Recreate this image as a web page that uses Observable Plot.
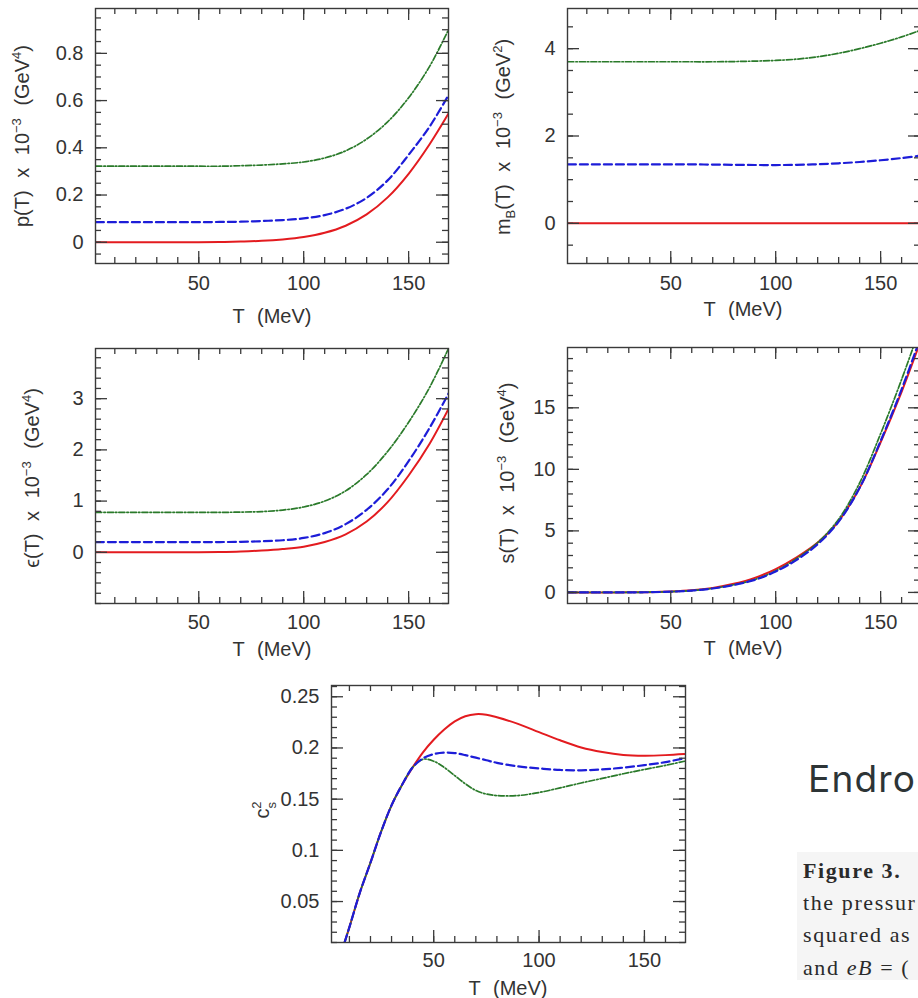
<!DOCTYPE html>
<html><head><meta charset="utf-8">
<script src="https://cdn.jsdelivr.net/npm/d3@7"></script>
<script src="https://cdn.jsdelivr.net/npm/@observablehq/plot@0.6"></script>
<style>
html,body{margin:0;padding:0;background:#fff;}
#page{position:relative;width:918px;height:998px;overflow:hidden;background:#fff;}
.panel{position:absolute;}
.endro{position:absolute;left:808px;top:756px;font:37px/45px Inter,'Noto Sans',sans-serif;color:#2d3436;letter-spacing:1.2px;white-space:nowrap;}
.capbox{position:absolute;left:797px;top:852px;width:130px;height:128px;background:#f5f5f5;}
.cap{position:absolute;left:803px;font:22px/32px 'Liberation Serif','DejaVu Serif',serif;color:#2a2a2a;letter-spacing:1.6px;white-space:nowrap;}
</style></head><body><div id="page">
<div class="endro">Endro</div>
<div class="capbox"></div>
<div class="cap" style="top:855px;font-weight:bold">Figure 3.</div>
<div class="cap" style="top:887px">the pressur</div>
<div class="cap" style="top:919px">squared as</div>
<div class="cap" style="top:952px">and <i>eB</i> = (</div>
</div>
<script>
// ---------- data ----------
const T = [1, 10, 20, 30, 40, 50, 60, 70, 80, 90, 100, 110, 120, 130, 140, 150, 160, 169];

const pRed   = [0, 0, 0, 0, 0, 0, 0.001, 0.003, 0.006, 0.012, 0.022, 0.040, 0.070, 0.118, 0.190, 0.290, 0.415, 0.545];
const pBlue  = [0.085, 0.085, 0.085, 0.085, 0.085, 0.085, 0.086, 0.087, 0.090, 0.094, 0.101, 0.115, 0.142, 0.188, 0.262, 0.370, 0.490, 0.623];
const pGreen = [0.322, 0.322, 0.322, 0.322, 0.322, 0.322, 0.322, 0.324, 0.327, 0.332, 0.340, 0.357, 0.387, 0.437, 0.510, 0.612, 0.745, 0.900];

const mRed   = [0, 0, 0, 0, 0, 0, 0, 0, 0, 0, 0, 0, 0, 0, 0, 0, 0, 0];
const mBlue  = [1.35, 1.35, 1.35, 1.35, 1.35, 1.35, 1.35, 1.345, 1.34, 1.336, 1.335, 1.34, 1.353, 1.375, 1.405, 1.445, 1.495, 1.55];
const mGreen = [3.70, 3.70, 3.70, 3.70, 3.70, 3.70, 3.70, 3.70, 3.705, 3.715, 3.73, 3.76, 3.815, 3.895, 4.0, 4.125, 4.27, 4.42];

const eRed   = [0, 0, 0, 0, 0, 0.001, 0.005, 0.015, 0.035, 0.065, 0.11, 0.20, 0.35, 0.60, 0.98, 1.50, 2.12, 2.80];
const eBlue  = [0.20, 0.20, 0.20, 0.20, 0.20, 0.20, 0.20, 0.205, 0.215, 0.235, 0.28, 0.375, 0.55, 0.83, 1.23, 1.78, 2.43, 3.10];
const eGreen = [0.78, 0.78, 0.78, 0.78, 0.78, 0.78, 0.78, 0.785, 0.795, 0.825, 0.885, 1.00, 1.20, 1.52, 1.97, 2.54, 3.22, 3.98];

const sRed   = [0, 0, 0, 0.005, 0.02, 0.07, 0.17, 0.37, 0.70, 1.18, 1.90, 2.85, 4.05, 5.80, 8.50, 12.2, 16.3, 20.4];
const sBlue  = [0, 0, 0, 0.004, 0.018, 0.06, 0.15, 0.32, 0.60, 1.02, 1.70, 2.65, 3.92, 5.75, 8.50, 12.3, 16.5, 20.7];
const sGreen = [0, 0, 0, 0.004, 0.018, 0.06, 0.15, 0.33, 0.62, 1.05, 1.75, 2.75, 4.05, 5.95, 8.90, 12.9, 17.3, 21.6];

const Tc = [7.7, 10, 15, 20, 25, 30, 35, 40, 45, 50, 55, 60, 65, 70, 75, 80, 90, 100, 110, 120, 130, 140, 150, 160, 169];
const cRed   = [0.010, 0.025, 0.059, 0.088, 0.118, 0.144, 0.164, 0.181, 0.196, 0.208, 0.218, 0.226, 0.231, 0.233, 0.2325, 0.2300, 0.2235, 0.2155, 0.2075, 0.2005, 0.1960, 0.1932, 0.1925, 0.1930, 0.1940];
const cBlue  = [0.010, 0.025, 0.059, 0.088, 0.118, 0.144, 0.164, 0.181, 0.190, 0.194, 0.1955, 0.195, 0.193, 0.1905, 0.188, 0.1855, 0.182, 0.1800, 0.1785, 0.1782, 0.1790, 0.1808, 0.1832, 0.1862, 0.1900];
const cGreen = [0.010, 0.025, 0.059, 0.088, 0.118, 0.144, 0.164, 0.181, 0.189, 0.187, 0.181, 0.173, 0.165, 0.1585, 0.155, 0.1535, 0.1535, 0.1565, 0.1610, 0.1658, 0.1703, 0.1748, 0.1790, 0.1830, 0.1870];

// tick labels
const xTicks = [50, 100, 150];
const pTicks = [0, 0.2, 0.4, 0.6, 0.8];
const mTicks = [0, 2, 4];
const eTicks = [0, 1, 2, 3];
const sTicks = [0, 5, 10, 15];
const cTicks = [0.05, 0.1, 0.15, 0.2, 0.25];

// ---------- drawing ----------
const RED = "#e31b1f", BLUE = "#1d1dd8", GREEN = "#2a7a2a", INK = "#3a3a3a";
const FONT = "Liberation Sans, Arial, sans-serif";
const page = document.getElementById("page");

function minor(lo, hi, step) {
  const out = [];
  for (let i = Math.ceil(lo / step - 1e-9); i * step <= hi + 1e-9; i++) out.push(+(i * step).toFixed(6));
  return out;
}
function rows(xs, ys) { return xs.map((x, i) => ({T: x, v: ys[i]})); }

function panel(o) {
  const [mt, mr, mb, ml] = o.margins;
  const fw = o.width - ml - mr, fh = o.height - mt - mb;
  const xMinor = minor(o.xDomain[0], o.xDomain[1], 10);
  const yMinor = minor(o.yDomain[0], o.yDomain[1], o.yStep);
  const marks = [];
  for (const s of o.series) {
    const opts = {x: "T", y: "v", stroke: s.color, strokeWidth: s.w, curve: "catmull-rom", clip: true};
    if (s.dash) opts.strokeDasharray = s.dash;
    marks.push(Plot.line(rows(s.x, s.y), opts));
  }
  // inward tick marks on all four sides
  const tk = {stroke: INK, strokeWidth: 1.3};
  for (const [ticks, len] of [[xMinor, 6], [xTicks, 12]]) {
    marks.push(Plot.ruleX(ticks, {...tk, x: d => d, insetTop: fh - len}));
    marks.push(Plot.ruleX(ticks, {...tk, x: d => d, insetBottom: fh - len}));
  }
  for (const [ticks, len] of [[yMinor, 6], [o.yTicks, 12]]) {
    marks.push(Plot.ruleY(ticks, {...tk, y: d => d, insetRight: fw - len}));
    marks.push(Plot.ruleY(ticks, {...tk, y: d => d, insetLeft: fw - len}));
  }
  marks.push(Plot.frame({stroke: INK, strokeWidth: 1.4}));
  marks.push(Plot.axisX(xTicks, {anchor: "bottom", tickSize: 0, tickPadding: o.xPad, label: null, fill: "#333", tickFormat: d => String(d)}));
  marks.push(Plot.axisY(o.yTicks, {anchor: "left", tickSize: 0, tickPadding: 12, label: null, fill: "#333", tickFormat: d => String(d)}));

  const chart = Plot.plot({
    width: o.width, height: o.height,
    marginTop: mt, marginRight: mr, marginBottom: mb, marginLeft: ml,
    x: {domain: o.xDomain}, y: {domain: o.yDomain},
    style: {fontFamily: FONT, fontSize: "20px", background: "transparent", overflow: "visible", maxWidth: "none"},
    marks
  });
  const div = document.createElement("div");
  div.className = "panel";
  div.style.left = o.left + "px"; div.style.top = o.top + "px";
  div.style.width = o.width + "px"; div.style.height = o.height + "px";
  div.appendChild(chart);
  page.insertBefore(div, page.firstChild);

  const svg = d3.select(chart);
  svg.append("text").attr("x", o.xl[0]).attr("y", o.xl[1]).attr("dy", "0.35em")
    .attr("text-anchor", "middle").attr("fill", "#333").attr("font-size", 20)
    .attr("font-family", FONT).style("word-spacing", "7px").text("T (MeV)");
  const yl = svg.append("text").attr("transform", `translate(${o.yl[0]},${o.yl[1]}) rotate(-90)`)
    .attr("dy", "0.35em").attr("text-anchor", "middle").attr("fill", "#333")
    .attr("font-size", 20).attr("font-family", FONT).style("word-spacing", "7px");
  o.ylabel(yl);
}

function unitLabel(t, lead, power) {
  t.append("tspan").text(lead + " x 10");
  t.append("tspan").attr("dy", -8).attr("font-size", 13).text("−3");
  t.append("tspan").attr("dy", 8).text(" (GeV");
  t.append("tspan").attr("dy", -8).attr("font-size", 13).text(power);
  t.append("tspan").attr("dy", 8).text(")");
}

const lineStyles = (xs, r, b, g) => [
  {x: xs, y: r, color: RED, w: 2, dash: null},
  {x: xs, y: g, color: GREEN, w: 1.7, dash: "6,2,1.5,2"},
  {x: xs, y: b, color: BLUE, w: 2.2, dash: "8,4"}
];

panel({left: 0, top: 0, width: 460, height: 330, margins: [8, 12, 67, 95],
  xDomain: [0.8, 169], yDomain: [-0.09, 0.99], yStep: 0.05, yTicks: pTicks, xPad: 12,
  series: lineStyles(T, pRed, pBlue, pGreen),
  xl: [272, 316], yl: [22, 136],
  ylabel: t => unitLabel(t, "p(T)", "4")});

panel({left: 460, top: 0, width: 472, height: 330, margins: [8, 12, 67, 107],
  xDomain: [0.8, 169], yDomain: [-0.92, 4.92], yStep: 0.5, yTicks: mTicks, xPad: 12,
  series: lineStyles(T, mRed, mBlue, mGreen),
  xl: [283, 309], yl: [43, 137],
  ylabel: t => {
    t.append("tspan").text("m");
    t.append("tspan").attr("dy", 5).attr("font-size", 13).text("B");
    t.append("tspan").attr("dy", -5).text("(T) x 10");
    t.append("tspan").attr("dy", -8).attr("font-size", 13).text("−3");
    t.append("tspan").attr("dy", 8).text(" (GeV");
    t.append("tspan").attr("dy", -8).attr("font-size", 13).text("2");
    t.append("tspan").attr("dy", 8).text(")");
  }});

panel({left: 0, top: 330, width: 460, height: 330, margins: [18, 12, 57, 95],
  xDomain: [0.8, 169], yDomain: [-1.0, 3.98], yStep: 0.2, yTicks: eTicks, xPad: 11,
  series: lineStyles(T, eRed, eBlue, eGreen),
  xl: [272, 319], yl: [32, 148],
  ylabel: t => unitLabel(t, "ϵ(T)", "4")});

panel({left: 460, top: 330, width: 472, height: 330, margins: [17, 12, 57, 107],
  xDomain: [0.8, 169], yDomain: [-0.9, 19.9], yStep: 1, yTicks: sTicks, xPad: 11,
  series: lineStyles(T, sRed, sBlue, sGreen),
  xl: [283, 318], yl: [47, 143],
  ylabel: t => unitLabel(t, "s(T)", "4")});

panel({left: 220, top: 670, width: 480, height: 328, margins: [15, 15, 56, 111],
  xDomain: [1.5, 169.5], yDomain: [0.01, 0.261], yStep: 0.01, yTicks: cTicks, xPad: 10,
  series: lineStyles(Tc, cRed, cBlue, cGreen),
  xl: [288, 318], yl: [42, 140],
  ylabel: t => {
    t.append("tspan").text("c");
    t.append("tspan").attr("dy", -8).attr("font-size", 13).text("2");
    t.append("tspan").attr("dx", -7).attr("dy", 15).attr("font-size", 13).text("s");
  }});
</script></body></html>
